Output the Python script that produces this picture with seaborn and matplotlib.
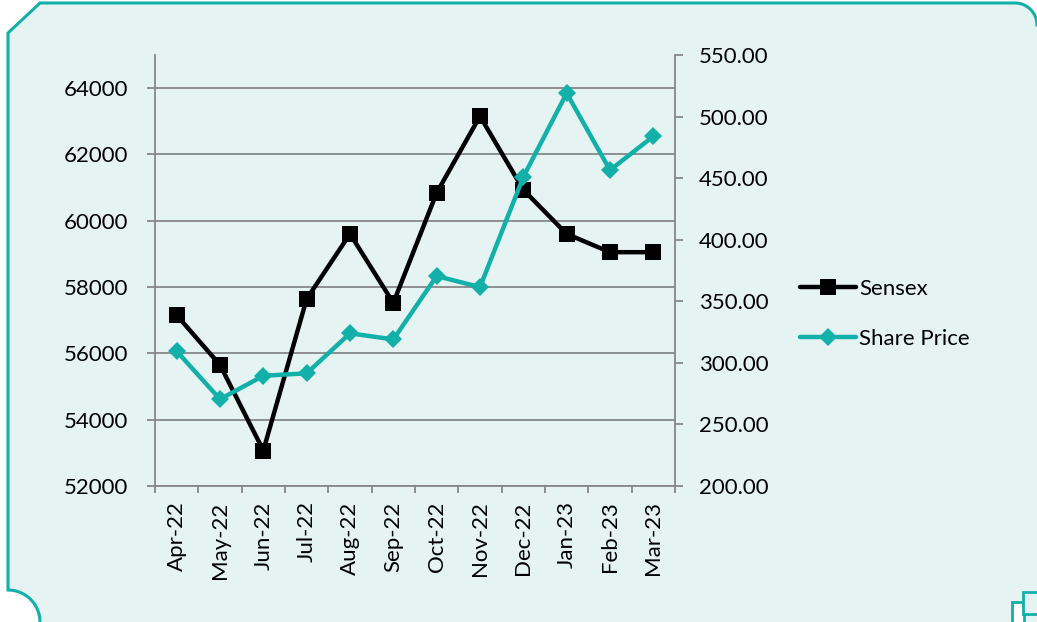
import numpy as np
import pandas as pd
import matplotlib
matplotlib.use("Agg")
import matplotlib.pyplot as plt
import seaborn as sns
from matplotlib.patches import Polygon, Rectangle
from matplotlib.lines import Line2D
from matplotlib.ticker import FixedLocator, NullFormatter, FormatStrFormatter

months = ["Apr-22", "May-22", "Jun-22", "Jul-22", "Aug-22", "Sep-22",
          "Oct-22", "Nov-22", "Dec-22", "Jan-23", "Feb-23", "Mar-23"]
sensex = [57150, 55650, 53070, 57640, 59600, 57520,
          60840, 63150, 60930, 59600, 59050, 59050]
share_price = [309.5, 270.5, 289.5, 291.5, 324.0, 319.0,
               370.5, 361.5, 451.0, 519.0, 456.5, 484.0]
left_ticks = [52000, 54000, 56000, 58000, 60000, 62000, 64000]
right_ticks = [200, 250, 300, 350, 400, 450, 500, 550]

W, H = 1037, 622
BG = "#E5F3F3"
TEAL = "#12B0A9"
BLACK = "#000000"
GRID = "#878787"
FONT = ["Lato", "DejaVu Sans"]
FS = 16

sns.set_theme(style="white")
plt.rcParams['font.family'] = FONT
plt.rcParams['text.color'] = "black"

fig = plt.figure(figsize=(W / 100, H / 100), dpi=100)
fig.patch.set_facecolor("white")

def fx(x):
    return x / W

def fy(y):
    return 1 - y / H

# background shape (pixel coordinates)
pts = [(8, 33), (40, 3)]
r = 22
for a in np.linspace(90, 0, 15):
    pts.append((1015 + r * np.cos(np.radians(a)), 25 - r * np.sin(np.radians(a))))
pts += [(1045, 25), (1045, 640), (40, 640)]
rc = 32
for a in np.linspace(0, 90, 15):
    pts.append((8 + rc * np.cos(np.radians(a)), 622 - rc * np.sin(np.radians(a))))
poly_pts = [(fx(x), fy(y)) for x, y in pts]
fig.add_artist(Polygon(poly_pts, closed=True, facecolor=BG, edgecolor=TEAL,
                       linewidth=2.2, transform=fig.transFigure, zorder=0))
# small icon bottom-right
fig.add_artist(Rectangle((fx(1012), fy(624)), 12 / W, 22 / H, facecolor="white",
                         edgecolor=TEAL, linewidth=2, transform=fig.transFigure, zorder=1))
fig.add_artist(Rectangle((fx(1023), fy(614)), 20 / W, 22 / H, facecolor=BG,
                         edgecolor=TEAL, linewidth=2, transform=fig.transFigure, zorder=1))

left, right, bottom, top = 155, 675, 486, 55
ax = fig.add_axes([fx(left), fy(bottom), (right - left) / W, (bottom - top) / H])
ax.set_facecolor("none")

df = pd.DataFrame({"Month": months, "Sensex": sensex, "Share Price": share_price})
df["pos"] = np.arange(len(months))

sns.lineplot(data=df, x="pos", y="Sensex", ax=ax, color=BLACK, linewidth=3.2,
             marker="s", markersize=11, markeredgewidth=0, zorder=3)
ax.set_xlim(-0.5, len(months) - 0.5)
ymin = 52000
ymax = 52000 + (bottom - top) / 398 * 12000
ax.set_ylim(ymin, ymax)
ax.yaxis.set_major_locator(FixedLocator(left_ticks))
ax.grid(axis="y", color=GRID, linewidth=1.3)
ax.grid(axis="x", visible=False)
ax.set_axisbelow(True)

ax.xaxis.set_major_locator(FixedLocator(np.arange(-0.5, len(months), 1.0)))
ax.xaxis.set_major_formatter(NullFormatter())
ax.xaxis.set_minor_locator(FixedLocator(np.arange(len(months))))
ax.set_xticklabels(months, minor=True, rotation=90, fontsize=FS)
ax.tick_params(axis="x", which="major", length=5, width=1.3, color=GRID, direction="out", bottom=True)
ax.tick_params(axis="x", which="minor", length=0, pad=11, bottom=True, labelcolor="black")
ax.tick_params(axis="y", length=5.8, width=1.3, color=GRID, direction="out", left=True,
               labelsize=FS, pad=13.5, labelcolor="black")
ax.set_xlabel("")
ax.set_ylabel("")
for s in ["top", "right"]:
    ax.spines[s].set_visible(False)
for s in ["left", "bottom"]:
    ax.spines[s].set_color(GRID)
    ax.spines[s].set_linewidth(1.3)

ax2 = ax.twinx()
sns.lineplot(data=df, x="pos", y="Share Price", ax=ax2, color=TEAL, linewidth=3.2,
             marker="D", markersize=9, markeredgewidth=0, zorder=3)
ax2.set_ylim(200, 550)
ax2.yaxis.set_major_locator(FixedLocator(right_ticks))
ax2.yaxis.set_major_formatter(FormatStrFormatter("%.2f"))
ax2.tick_params(axis="y", length=5.8, width=1.3, color=GRID, direction="out", right=True,
                labelsize=FS, pad=11.5, labelcolor="black")
ax2.grid(False)
ax2.set_ylabel("")
for s in ["top", "left", "bottom"]:
    ax2.spines[s].set_visible(False)
ax2.spines["right"].set_color(GRID)
ax2.spines["right"].set_linewidth(1.3)

handles = [Line2D([], [], color=BLACK, linewidth=3.2, marker="s", markersize=11, markeredgewidth=0),
           Line2D([], [], color=TEAL, linewidth=3.2, marker="D", markersize=9, markeredgewidth=0)]
leg = fig.legend(handles, ["Sensex", "Share Price"], loc="center left",
                 bbox_to_anchor=(fx(780), fy(314)), frameon=False, fontsize=FS,
                 handlelength=2.5, handletextpad=0.15, labelspacing=1.35)
for t in leg.get_texts():
    t.set_color("black")

fig.savefig("out.png", dpi=100, facecolor=fig.get_facecolor())
